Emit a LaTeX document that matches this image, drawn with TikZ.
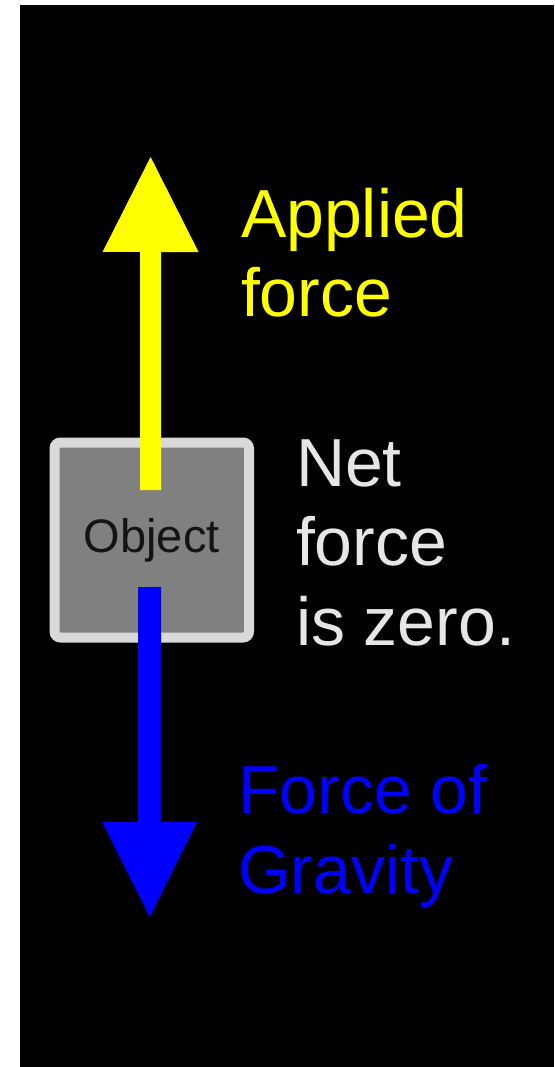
\documentclass[tikz,border=0pt]{standalone}
\usepackage{fontspec}
\setmainfont{Liberation Sans}
\usetikzlibrary{arrows.meta}
\definecolor{netgray}{HTML}{E6E6E6}
\definecolor{boxborder}{HTML}{D9D9D9}
\definecolor{boxfill}{HTML}{808080}
\definecolor{objtext}{HTML}{141414}
\definecolor{appyellow}{HTML}{FFFF00}
\definecolor{gravblue}{HTML}{0000FF}
\tikzset{
  lbl/.style={inner sep=0pt, outer sep=0pt, anchor=base west, font=\fontsize{68}{80}\selectfont},
  objbox/.style={draw=boxborder, fill=boxfill, line width=10pt, rounded corners=6pt,
     minimum width=194.5pt, minimum height=195pt, inner sep=0pt, outer sep=0pt,
     text=objtext, font=\fontsize{47}{56}\selectfont},
  forcearrow/.style={line width=#1, line cap=butt},
}
\begin{document}
\begin{tikzpicture}[x=1pt,y=-1pt]
\useasboundingbox (0,0) rectangle (554,1067);
\fill[white] (0,0) rectangle (554,1067);
\fill[black] (20,5) rectangle (554,1067);
% object box
\node[objbox] (obj) at (151.75,540) {Object};
% arrows
\coordinate (ystart) at (150.5,490);
\coordinate (yend) at (150.6,157);
\coordinate (bstart) at (149.5,587);
\coordinate (bend) at (149.8,917);
\draw[forcearrow=21pt, appyellow, -{Triangle[width=96pt,length=95pt,line width=0pt]}] (ystart) -- (yend);
\draw[forcearrow=23pt, gravblue, -{Triangle[width=95pt,length=95pt,line width=0pt]}] (bstart) -- (bend);
% labels
\node[lbl, text=appyellow] (app1) at (241,238) {Applied};
\node[lbl, text=appyellow] (app2) at (241,316.7) {force};
\node[lbl, text=netgray] (net1) at (296,486) {Net};
\node[lbl, text=netgray] (net2) at (296,565) {force};
\node[lbl, text=netgray] (net3) at (296,645) {is zero.};
\node[lbl, text=gravblue] (grav1) at (238,813.3) {Force of};
\node[lbl, text=gravblue] (grav2) at (238,893.3) {Gravity};
\end{tikzpicture}
\end{document}
